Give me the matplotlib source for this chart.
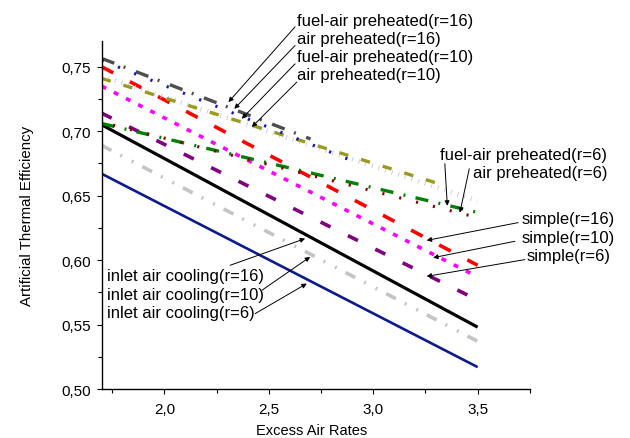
import matplotlib
matplotlib.use("Agg")
import matplotlib.pyplot as plt
from matplotlib.ticker import FuncFormatter, MultipleLocator

plt.rcParams['font.family'] = ['Liberation Sans', 'DejaVu Sans']
plt.rcParams['lines.scale_dashes'] = False

# Efficiency vs. excess air rate for each cycle configuration
x_full = [1.7, 3.5]

inlet_r6 = [0.667, 0.517]
inlet_r10 = [0.689, 0.537]
inlet_r16 = [0.705, 0.548]

simple_r6 = [0.714, 0.569]
simple_r10 = [0.735, 0.587]
simple_r16 = [0.750, 0.596]

x_fuel_air_r16 = [1.7, 2.7]
fuel_air_r16 = [0.7565, 0.694]
x_air_r16 = [1.7, 2.9]
air_r16 = [0.755, 0.677]

x_fuel_air_r10 = [1.7, 3.3]
fuel_air_r10 = [0.741, 0.660]
air_r10 = [0.7427, 0.646]

fuel_air_r6 = [0.706, 0.637]
air_r6 = [0.707, 0.633]

fig = plt.figure(figsize=(6.3, 4.39), dpi=100)
ax = fig.add_axes([0.1614, 0.1116, 0.6796, 0.7927])

ax.plot(x_full, inlet_r6, color='#0d1a8a', lw=1.9, solid_capstyle='butt')
ax.plot(x_full, inlet_r10, color='#c4c4c4', lw=2.6,
        linestyle=(0, (7.9, 7.2, 1.4, 7.9, 1.4, 7.2)))
ax.plot(x_full, inlet_r16, color='black', lw=2.3, solid_capstyle='butt')

ax.plot(x_full, simple_r6, color='#800080', lw=2.6, linestyle=(0, (8, 14)))
ax.plot(x_full, simple_r10, color='#ff00ff', lw=2.6, linestyle=(0, (3.6, 6.2)))
ax.plot(x_full, simple_r16, color='#ff0000', lw=2.6, linestyle=(0, (9.4, 13.5)))

ax.plot(x_full, air_r10, color='#c4c4ec', lw=3.5, linestyle=(0, (0.6, 4.4)))
ax.plot(x_fuel_air_r10, fuel_air_r10, color='#9a9a1e', lw=2.4,
        linestyle=(0, (6.8, 9.5)))
ax.plot(x_fuel_air_r16, fuel_air_r16, color='#4e4e4e', lw=2.4,
        linestyle=(0, (9.7, 7.2, 1.4, 8)))
ax.plot(x_air_r16, air_r16, color='#1515c8', lw=2.2, linestyle=(0, (1.6, 11)))

ax.plot(x_full, fuel_air_r6, color='#008000', lw=2.4,
        linestyle=(0, (9.4, 7.5, 1.4, 7.5)))
ax.plot(x_full, air_r6, color='#8b0000', lw=2.2, linestyle=(4, (1.5, 11)))

ax.set_xlim(1.7, 3.75)
ax.set_ylim(0.50, 0.770)
ax.xaxis.set_major_locator(MultipleLocator(0.5))
ax.xaxis.set_minor_locator(MultipleLocator(0.25))
ax.yaxis.set_major_locator(MultipleLocator(0.05))
ax.yaxis.set_minor_locator(MultipleLocator(0.025))
ax.xaxis.set_major_formatter(FuncFormatter(lambda v, p: f"{v:.1f}".replace('.', ',')))
ax.yaxis.set_major_formatter(FuncFormatter(lambda v, p: f"{v:.2f}".replace('.', ',')))
ax.tick_params(which='both', direction='out', labelsize=11, width=0.8)
ax.tick_params(which='major', length=3.5)
ax.tick_params(which='minor', length=3)
ax.tick_params(axis='x', which='major', pad=5.5)
ax.tick_params(axis='y', which='major', pad=4.5)
for s in ('top', 'right'):
    ax.spines[s].set_visible(False)
for s in ('left', 'bottom'):
    ax.spines[s].set_linewidth(1.0)

ax.set_xlabel('Excess Air Rates', fontsize=10.5, va='baseline')
ax.set_ylabel('Artificial Thermal Efficiency', fontsize=10.8)
ax.xaxis.set_label_coords(0.49, -0.129)
ax.yaxis.set_label_coords(-0.158, 0.5)

arrow_kw = dict(arrowstyle='-|>', color='black', lw=0.7,
                mutation_scale=7, shrinkA=0, shrinkB=0)
text_kw = dict(fontsize=12, va='center', ha='left', clip_on=False)


def label(text, pos):
    ax.text(pos[0], pos[1], text, **text_kw)


def pointer(tail, head):
    ax.annotate('', xy=head, xytext=tail, arrowprops=arrow_kw,
                annotation_clip=False)


label('fuel-air preheated(r=16)', (2.636, 0.7859))
label('air preheated(r=16)', (2.636, 0.7722))
label('fuel-air preheated(r=10)', (2.636, 0.7583))
label('air preheated(r=10)', (2.636, 0.7438))
pointer((2.626, 0.7810), (2.307, 0.7226))
pointer((2.626, 0.7665), (2.335, 0.7174))
pointer((2.626, 0.7523), (2.371, 0.7097))
pointer((2.634, 0.7381), (2.419, 0.7033))

label('fuel-air preheated(r=6)', (3.319, 0.6820))
label('air preheated(r=6)', (3.478, 0.6676))
pointer((3.343, 0.6748), (3.355, 0.6422))
pointer((3.460, 0.6709), (3.415, 0.6368))

label('simple(r=16)', (3.710, 0.6322))
label('simple(r=10)', (3.710, 0.6174))
label('simple(r=6)', (3.734, 0.6033))
pointer((3.694, 0.6291), (3.256, 0.6153))
pointer((3.678, 0.6146), (3.287, 0.6019))
pointer((3.726, 0.6004), (3.256, 0.5874))

label('inlet air cooling(r=16)', (1.726, 0.5878))
label('inlet air cooling(r=10)', (1.726, 0.5733))
label('inlet air cooling(r=6)', (1.726, 0.5591))
pointer((2.315, 0.5960), (2.674, 0.6167))
pointer((2.467, 0.5766), (2.698, 0.6025))
pointer((2.435, 0.5585), (2.682, 0.5818))

fig.savefig('out.png', dpi=100)
